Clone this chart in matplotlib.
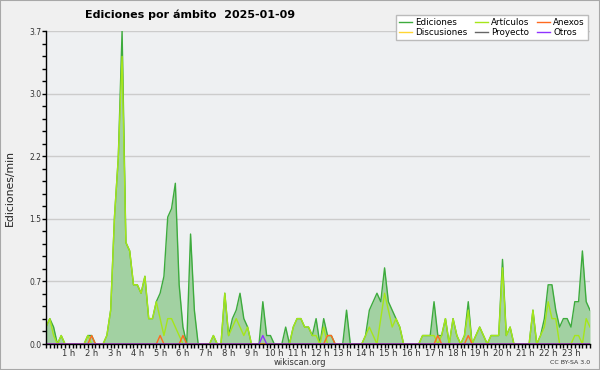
import numpy as np
import matplotlib
matplotlib.use('Agg')
import matplotlib.pyplot as plt
from matplotlib.patches import Rectangle
from matplotlib.ticker import FixedLocator, MultipleLocator

# edits per minute, one value every 10 minutes (144 slots)
ediciones = [0.2, 0.3, 0.2, 0, 0.1, 0, 0, 0, 0, 0, 0, 0.1, 0.1, 0, 0, 0,
             0.1, 0.4, 1.5, 2.2, 3.7, 1.2, 1.1, 0.7, 0.7, 0.6, 0.8, 0.3, 0.3, 0.5, 0.6, 0.8,
             1.5, 1.6, 1.9, 0.7, 0.2, 0, 1.3, 0.4, 0, 0, 0, 0, 0.1, 0, 0, 0.6,
             0.1, 0.3, 0.4, 0.6, 0.3, 0.2, 0, 0, 0, 0.5, 0.1, 0.1, 0, 0, 0, 0.2,
             0, 0.2, 0.3, 0.3, 0.2, 0.2, 0.1, 0.3, 0, 0.3, 0.1, 0.1, 0, 0, 0, 0.4,
             0, 0, 0, 0, 0.1, 0.4, 0.5, 0.6, 0.5, 0.9, 0.5, 0.4, 0.3, 0.2, 0, 0,
             0, 0, 0, 0.1, 0.1, 0.1, 0.5, 0.1, 0.1, 0.3, 0, 0.3, 0.1, 0, 0.1, 0.5,
             0, 0.1, 0.2, 0.1, 0, 0.1, 0.1, 0.1, 1.0, 0.1, 0.2, 0, 0, 0, 0, 0,
             0.4, 0, 0.1, 0.3, 0.7, 0.7, 0.4, 0.2, 0.3, 0.3, 0.2, 0.5, 0.5, 1.1, 0.5, 0.4]
articulos = [0.2, 0.3, 0.1, 0, 0.1, 0, 0, 0, 0, 0, 0, 0.1, 0, 0, 0, 0,
             0.1, 0.4, 1.5, 2.2, 3.4, 1.2, 1.1, 0.7, 0.7, 0.6, 0.8, 0.3, 0.3, 0.5, 0.3, 0.1,
             0.3, 0.3, 0.2, 0.1, 0, 0, 0, 0, 0, 0, 0, 0, 0.1, 0, 0, 0.6,
             0.1, 0.2, 0.3, 0.2, 0.1, 0.2, 0, 0, 0, 0, 0, 0, 0, 0, 0, 0,
             0, 0.2, 0.3, 0.3, 0.2, 0.2, 0.1, 0.1, 0, 0.2, 0, 0, 0, 0, 0, 0,
             0, 0, 0, 0, 0.1, 0.2, 0.1, 0, 0.3, 0.6, 0.4, 0.2, 0.3, 0.2, 0, 0,
             0, 0, 0, 0.1, 0.1, 0.1, 0.1, 0, 0.1, 0.3, 0, 0.3, 0.1, 0, 0.1, 0.4,
             0, 0.1, 0.2, 0.1, 0, 0.1, 0.1, 0.1, 0.9, 0.1, 0.2, 0, 0, 0, 0, 0,
             0.4, 0, 0.1, 0.2, 0.5, 0.3, 0.3, 0, 0, 0, 0, 0.1, 0.1, 0, 0.3, 0.2]
anexos = [0.0] * 144
for k in [12, 30, 36, 74, 75, 103, 111]:
    anexos[k] = 0.1
otros = [0.0] * 144
otros[57] = 0.1
discusiones = [0.0] * 144
proyecto = [0.0] * 144

minutes = np.arange(144) * 10
hour_labels = [f'{h} h' for h in range(1, 24)]
y_ticks = [0, 0.74, 1.48, 2.22, 2.96, 3.7]

fig = plt.figure(figsize=(6, 3.7), dpi=100, facecolor='#f0f0f0')
fig.patches.append(Rectangle((0, 0), 1, 1, transform=fig.transFigure, fill=False,
                             edgecolor='#a8a8a8', linewidth=1.5))
ax = fig.add_axes([46 / 600, 26 / 370, 544 / 600, 313 / 370], facecolor='#eef0f2')

ax.fill_between(minutes, ediciones, color='#a2d1a2', linewidth=0, zorder=1)
l_ed, = ax.plot(minutes, ediciones, color='#3dab3d', lw=1.0, label='Ediciones', zorder=2)
l_ar, = ax.plot(minutes, articulos, color='#a6e619', lw=1.0, label='Artículos', zorder=2)
l_di, = ax.plot(minutes, discusiones, color='#ffd633', lw=1.0, label='Discusiones', zorder=2)
l_pr, = ax.plot(minutes, proyecto, color='#666666', lw=1.0, label='Proyecto', zorder=2)
l_an, = ax.plot(minutes, anexos, color='#ff6a1f', lw=1.0, label='Anexos', zorder=2)
l_ot, = ax.plot(minutes, otros, color='#8f33ff', lw=1.0, label='Otros', zorder=2)

ax.set_xlim(0, 1430)
ax.set_ylim(0, 3.7)
ax.xaxis.set_major_locator(FixedLocator([60 * h for h in range(1, 24)]))
ax.set_xticklabels(hour_labels)
ax.xaxis.set_minor_locator(MultipleLocator(10))
ax.yaxis.set_major_locator(FixedLocator(y_ticks))
ax.set_yticklabels([f'{v:.1f}' for v in y_ticks])
ax.yaxis.set_minor_locator(MultipleLocator(0.148))
ax.tick_params(axis='both', which='major', length=3, width=1, color='black',
               labelcolor='#333333', pad=0.5)
ax.tick_params(axis='x', which='major', labelsize=6)
ax.tick_params(axis='y', which='major', labelsize=5.5)
ax.tick_params(axis='both', which='minor', length=3, width=1, color='black')
ax.grid(axis='y', color='#cccccc', lw=1)
ax.set_axisbelow(True)
for s in ['top', 'right']:
    ax.spines[s].set_visible(False)
for s in ['left', 'bottom']:
    ax.spines[s].set_linewidth(1)
    ax.spines[s].set_zorder(3)

fig.text(85 / 600, 1 - 15 / 370, 'Ediciones por ámbito  2025-01-09', fontsize=8,
         weight='bold', ha='left', va='center')
fig.text(10 / 600, 1 - 188 / 370, 'Ediciones/min', rotation=90, fontsize=7.8,
         ha='center', va='center', color='#222222')
fig.text(300 / 600, 1 - 362.5 / 370, 'wikiscan.org', fontsize=6, ha='center',
         va='center', color='#333333')
fig.text(590 / 600, 1 - 362.5 / 370, 'CC BY-SA 3.0', fontsize=4.5, ha='right',
         va='center', color='#333333')

fig.legend(handles=[l_ed, l_di, l_ar, l_pr, l_an, l_ot], ncol=3, loc='upper right',
           bbox_to_anchor=(592 / 600, 1 - 11 / 370), fontsize=6.3, frameon=True,
           fancybox=False, edgecolor='#bbbbbb', facecolor='white', framealpha=1,
           handlelength=1.5, handletextpad=0.4, columnspacing=0.8, labelspacing=0.1,
           borderpad=0.3)

fig.savefig('out.png', dpi=100, facecolor=fig.get_facecolor())
